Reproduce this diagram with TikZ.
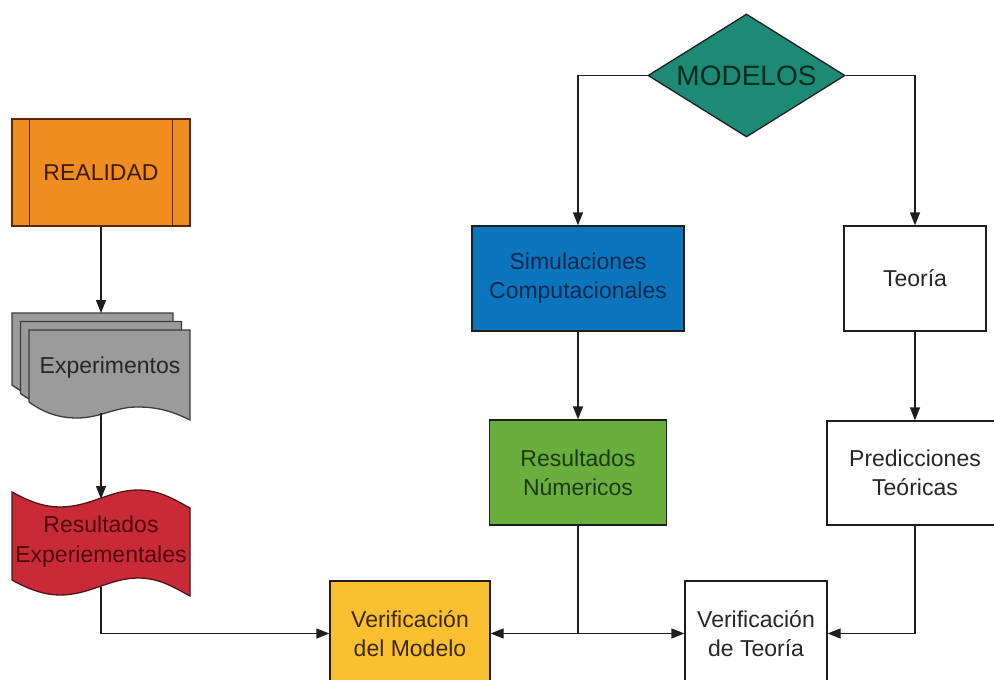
\documentclass[tikz,border=0pt]{standalone}
\usepackage{fontspec}
\setmainfont{Liberation Sans}
\usetikzlibrary{arrows.meta,shapes.geometric,calc}
\definecolor{cOrange}{RGB}{240,141,33}
\definecolor{cOrangeT}{RGB}{62,26,6}
\definecolor{cOrangeB}{RGB}{90,40,16}
\definecolor{cGray}{RGB}{155,155,155}
\definecolor{cGrayB}{RGB}{60,60,60}
\definecolor{cRed}{RGB}{200,42,56}
\definecolor{cRedT}{RGB}{80,8,12}
\definecolor{cRedB}{RGB}{80,20,22}
\definecolor{cYellow}{RGB}{250,192,48}
\definecolor{cYellowT}{RGB}{60,40,5}
\definecolor{cGreen}{RGB}{106,174,62}
\definecolor{cGreenT}{RGB}{28,58,12}
\definecolor{cBlue}{RGB}{10,116,188}
\definecolor{cBlueT}{RGB}{12,42,78}
\definecolor{cTeal}{RGB}{28,138,116}
\definecolor{cTealT}{RGB}{12,42,36}
\definecolor{cLine}{RGB}{30,30,30}
\tikzset{
  box/.style={rectangle, draw=cLine, line width=1.3pt, inner sep=0pt, align=center,
    font=\fontsize{23}{29}\selectfont},
  arr/.style={draw=cLine, line width=1.3pt, -{Triangle[length=13pt,width=10pt]}},
  ln/.style={draw=cLine, line width=1.3pt},
}
\newcommand\frontdoc{(29,330) -- (190,330) -- (190,420)
  .. controls (170,410) and (155,407) .. (137,407)
  .. controls (115,407) and (100,418) .. (77,418)
  .. controls (55,418) and (40,410) .. (29,402) -- cycle}
\begin{document}
\begin{tikzpicture}[x=1pt,y=-1pt]
\useasboundingbox (0,0) rectangle (994,680);
\clip (0,0) rectangle (994,680);

% REALIDAD
\node[box, fill=cOrange, draw=cOrangeB, text=cOrangeT, minimum width=178pt, minimum height=107pt] (real) at (101,172.5) {REALIDAD};
\draw[draw=cOrangeB, line width=1.3pt] ([xshift=18pt]real.north west) -- ([xshift=18pt]real.south west);
\draw[draw=cOrangeB, line width=1.3pt] ([xshift=-18pt]real.north east) -- ([xshift=-18pt]real.south east);

% Experimentos (stacked documents)
\begin{scope}[shift={(-17,-17)}]
  \filldraw[fill=cGray, draw=cGrayB, line width=1.3pt] \frontdoc;
\end{scope}
\begin{scope}[shift={(-8.5,-8.5)}]
  \filldraw[fill=cGray, draw=cGrayB, line width=1.3pt] \frontdoc;
\end{scope}
\filldraw[fill=cGray, draw=cGrayB, line width=1.3pt] \frontdoc;
\node[font=\fontsize{23}{29}\selectfont, text=black!85] (exper) at (110,368) {Experimentos};
\coordinate (expTop) at (101,313);
\coordinate (expBot) at (101,413);

% Resultados Experimentales (tape)
\filldraw[fill=cRed, draw=cRedB, line width=1.3pt]
  (12,492) .. controls (30,502) and (45,507) .. (60,507)
  .. controls (90,507) and (110,490) .. (138,490)
  .. controls (160,490) and (175,500) .. (190,508)
  -- (190,596)
  .. controls (175,588) and (160,578) .. (138,578)
  .. controls (110,578) and (90,595) .. (60,595)
  .. controls (45,595) and (30,590) .. (12,580) -- cycle;
\node[align=center, font=\fontsize{23}{30}\selectfont, text=cRedT] (resexp) at (101,542) {Resultados\\Experiementales};
\coordinate (resTop) at (101,499);
\coordinate (resBot) at (101,587);

% MODELOS
\node[diamond, aspect=1.6, draw=cLine, line width=1.3pt, fill=cTeal, inner sep=0pt,
  minimum width=197pt, minimum height=123pt, text=cTealT,
  font=\fontsize{28}{33}\selectfont] (mod) at (746.5,75.5) {MODELOS};

% Right side boxes
\node[box, fill=cBlue, text=cBlueT, minimum width=212pt, minimum height=105pt] (sim) at (578,278.5) {Simulaciones\\Computacionales};
\node[box, fill=white, text=black!85, minimum width=142pt, minimum height=105pt] (teo) at (915,278.5) {Teoría};
\node[box, fill=cGreen, text=cGreenT, minimum width=177pt, minimum height=105pt] (resnum) at (578,472.5) {Resultados\\Númericos};
\node[box, fill=white, text=black!85, minimum width=176pt, minimum height=104pt] (pred) at (915,473) {Predicciones\\Teóricas};
\node[box, fill=cYellow, text=cYellowT, minimum width=160pt, minimum height=105pt] (vmod) at (410,633.5) {Verificación\\del Modelo};
\node[box, fill=white, text=black!85, minimum width=142pt, minimum height=105pt] (vteo) at (756,633.5) {Verificación\\de Teoría};

% Connectors
\draw[arr] (real.south) -- (expTop);
\draw[arr] (expBot) -- (resTop);
\draw[arr] (resBot) |- (vmod.west);
\draw[arr] (mod.west) -| (sim.north);
\draw[arr] (mod.east) -| (teo.north);
\draw[arr] (sim.south) -- (resnum.north);
\draw[arr] (teo.south) -- (pred.north);
\coordinate (junc) at (resnum.south |- vmod.east);
\draw[ln] (resnum.south) -- (junc);
\draw[arr] (junc) -- (vmod.east);
\draw[arr] (junc) -- (vteo.west);
\draw[arr] (pred.south) |- (vteo.east);
\end{tikzpicture}
\end{document}
